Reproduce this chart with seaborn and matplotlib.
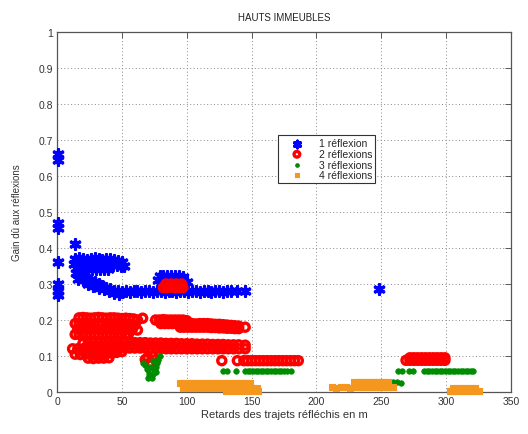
import matplotlib
matplotlib.use("Agg")
import matplotlib.pyplot as plt
import seaborn as sns

# Each series: (retard en m, gain) pairs

# --- 1 réflexion ---
r1_pts = [
    (0.5, 0.66), (0.5, 0.645), (0.5, 0.47), (0.5, 0.455), (0.5, 0.36), (0.5, 0.30), (0.5, 0.28), (0.5, 0.27),
    (14, 0.41),
    (14, 0.37), (17, 0.372), (20, 0.37), (23, 0.368), (26, 0.37), (29, 0.372), (32, 0.37), (35, 0.368),
    (38, 0.37), (41, 0.37), (44, 0.368), (47, 0.365), (50, 0.362),
    (13, 0.355), (16, 0.356), (19, 0.355), (22, 0.354), (25, 0.355), (28, 0.356), (31, 0.355), (34, 0.354),
    (37, 0.355), (40, 0.355), (43, 0.354), (46, 0.352), (49, 0.35), (52, 0.35),
    (18, 0.343), (21, 0.342), (24, 0.343), (27, 0.342), (30, 0.343), (33, 0.342), (36, 0.343), (39, 0.342),
    (15, 0.33), (18, 0.325), (20, 0.32), (23, 0.315), (26, 0.31), (29, 0.305), (32, 0.30), (35, 0.295),
    (38, 0.29), (41, 0.285), (44, 0.28),
    (16, 0.315), (20, 0.31), (24, 0.30), (28, 0.295), (32, 0.29), (36, 0.285), (40, 0.28), (44, 0.275), (48, 0.272),
    (47, 0.28), (50, 0.278), (53, 0.28), (56, 0.279), (59, 0.28), (62, 0.28), (65, 0.279), (68, 0.28),
    (71, 0.28), (74, 0.279), (77, 0.28), (80, 0.28), (83, 0.279), (86, 0.28), (89, 0.28), (92, 0.279),
    (95, 0.28), (98, 0.28), (101, 0.279), (104, 0.28), (107, 0.28), (110, 0.279), (113, 0.28), (116, 0.28),
    (119, 0.279), (122, 0.28), (125, 0.28), (128, 0.279), (131, 0.28), (134, 0.28),
    (139, 0.28), (145, 0.28),
    (79, 0.322), (82, 0.322), (85, 0.323), (88, 0.322), (91, 0.322), (94, 0.322), (97, 0.32),
    (78, 0.31), (81, 0.31), (84, 0.31), (87, 0.31), (90, 0.31), (93, 0.31), (96, 0.31), (100, 0.305),
    (248, 0.285),
]

# --- 2 réflexions ---
r2_pts = [
    # upper cluster, short delays
    (17, 0.206), (20, 0.207), (23, 0.206), (26, 0.205), (29, 0.206), (32, 0.207), (35, 0.206), (38, 0.205),
    (41, 0.206), (44, 0.206), (47, 0.205), (50, 0.204), (53, 0.205), (56, 0.204), (59, 0.203), (62, 0.2), (66, 0.205),
    (14, 0.19), (17, 0.19), (20, 0.19), (23, 0.191), (26, 0.19), (29, 0.19), (32, 0.19), (35, 0.19),
    (38, 0.19), (41, 0.191), (44, 0.19), (47, 0.19), (50, 0.19), (53, 0.189), (56, 0.188), (60, 0.186),
    (16, 0.175), (19, 0.175), (22, 0.176), (25, 0.175), (28, 0.175), (31, 0.175), (34, 0.174), (37, 0.175),
    (40, 0.175), (43, 0.175), (46, 0.174), (49, 0.175), (52, 0.174), (55, 0.174), (58, 0.173), (62, 0.172),
    (14, 0.16), (17, 0.16), (20, 0.161), (23, 0.16), (26, 0.16), (29, 0.16), (32, 0.16), (35, 0.161),
    (38, 0.16), (41, 0.16), (44, 0.16), (47, 0.16), (50, 0.159), (53, 0.16), (55, 0.16),
    # upper band, longer delays
    (76, 0.2), (79, 0.2), (82, 0.201), (85, 0.2), (88, 0.2), (91, 0.2), (94, 0.2), (97, 0.2), (100, 0.198),
    (80, 0.19), (83, 0.19), (86, 0.19), (89, 0.19), (92, 0.19), (95, 0.19), (98, 0.19), (101, 0.19),
    (104, 0.19), (107, 0.189), (110, 0.19), (113, 0.19), (116, 0.19), (119, 0.189), (122, 0.188),
    (125, 0.188), (128, 0.187), (131, 0.186), (134, 0.185), (137, 0.184), (140, 0.183),
    (95, 0.18), (98, 0.18), (101, 0.18), (104, 0.18), (107, 0.18), (110, 0.18), (113, 0.18), (116, 0.18),
    (119, 0.179), (122, 0.179), (125, 0.178), (128, 0.178), (131, 0.177), (134, 0.177), (137, 0.176),
    (140, 0.176), (145, 0.18),
    # lower band
    (20, 0.135), (24, 0.136), (28, 0.137), (32, 0.137), (36, 0.136), (40, 0.137), (44, 0.138), (48, 0.137),
    (52, 0.138), (56, 0.138), (60, 0.137), (64, 0.137), (68, 0.137), (72, 0.136), (76, 0.136), (80, 0.136),
    (84, 0.135), (88, 0.135), (92, 0.135), (96, 0.134), (100, 0.134), (104, 0.134), (108, 0.133),
    (112, 0.133), (116, 0.133), (120, 0.132), (124, 0.132), (128, 0.132), (132, 0.131), (136, 0.131),
    (140, 0.131), (145, 0.13),
    (12, 0.12), (16, 0.12), (20, 0.12), (24, 0.121), (28, 0.12), (32, 0.12), (36, 0.12), (40, 0.12),
    (44, 0.121), (48, 0.122), (52, 0.122), (56, 0.122), (60, 0.122), (64, 0.122), (68, 0.122), (72, 0.121),
    (76, 0.121), (80, 0.121), (84, 0.12), (88, 0.12), (92, 0.12), (96, 0.12), (100, 0.12), (104, 0.12),
    (108, 0.12), (112, 0.12), (116, 0.12), (120, 0.12), (124, 0.12), (128, 0.12), (132, 0.12), (136, 0.12),
    (140, 0.12), (145, 0.12),
    (14, 0.105), (18, 0.104), (22, 0.105), (26, 0.104), (30, 0.105), (34, 0.106), (38, 0.107), (42, 0.108),
    (46, 0.11), (50, 0.112),
    (24, 0.094), (28, 0.093), (32, 0.094), (36, 0.094), (40, 0.095),
    # under the 1-réflexion blob
    (82, 0.29), (85, 0.29), (88, 0.291), (91, 0.29), (94, 0.29), (97, 0.29),
    (84, 0.3), (88, 0.3), (92, 0.3), (96, 0.3),
    (68, 0.09), (70, 0.096), (72, 0.082), (74, 0.1), (76, 0.09),
    # band near 0.09
    (127, 0.087), (139, 0.087), (144, 0.087), (147, 0.087), (150, 0.087), (153, 0.087), (156, 0.087),
    (159, 0.087), (162, 0.087), (165, 0.087), (168, 0.087), (171, 0.087), (174, 0.087), (177, 0.087),
    (180, 0.087), (183, 0.087), (186, 0.087),
    (269, 0.088), (272, 0.088), (275, 0.088), (278, 0.088), (281, 0.088), (284, 0.088), (287, 0.088),
    (290, 0.088), (293, 0.088), (296, 0.088), (299, 0.088),
    (272, 0.095), (275, 0.095), (278, 0.095), (281, 0.095), (284, 0.095), (287, 0.095), (290, 0.095),
    (293, 0.095), (296, 0.095), (299, 0.095),
]

# --- 3 réflexions ---
r3_pts = [
    (66, 0.08), (68, 0.075), (69, 0.065), (70, 0.06), (71, 0.05), (72, 0.045), (73, 0.04), (74, 0.05),
    (75, 0.06), (76, 0.07), (77, 0.08), (78, 0.09), (79, 0.1), (72, 0.07), (74, 0.085), (70, 0.04), (76, 0.055),
    (128, 0.058), (131, 0.058), (138, 0.058),
    (145, 0.057), (147, 0.057), (149, 0.057), (151, 0.057), (153, 0.057), (155, 0.057), (157, 0.057),
    (159, 0.057), (161, 0.057), (163, 0.057), (165, 0.057), (167, 0.057), (169, 0.057), (171, 0.057),
    (173, 0.057), (175, 0.057), (177, 0.057), (180, 0.057),
    (259, 0.027), (262, 0.027), (265, 0.025),
    (263, 0.057), (266, 0.057), (271, 0.057), (274, 0.057),
    (283, 0.057), (285, 0.057), (287, 0.057), (289, 0.057), (291, 0.057), (293, 0.057), (295, 0.057),
    (297, 0.057), (299, 0.057), (301, 0.057), (303, 0.057), (305, 0.057), (307, 0.057), (309, 0.057),
    (311, 0.057), (313, 0.057), (315, 0.057), (317, 0.057), (319, 0.057), (321, 0.057),
]

# --- 4 réflexions ---
r4_pts = [
    (95, 0.025), (97, 0.026), (99, 0.025), (101, 0.025), (103, 0.026), (105, 0.025), (107, 0.025),
    (109, 0.026), (111, 0.025), (113, 0.025), (115, 0.026), (117, 0.025), (119, 0.025), (121, 0.026),
    (123, 0.025), (125, 0.025), (127, 0.026), (129, 0.025), (131, 0.025), (133, 0.026), (135, 0.025),
    (137, 0.025), (139, 0.026), (141, 0.025), (143, 0.025), (145, 0.026), (147, 0.025), (149, 0.025),
    (97, 0.012), (100, 0.012), (103, 0.012), (106, 0.012), (109, 0.012), (112, 0.012), (115, 0.012),
    (118, 0.012), (121, 0.012), (124, 0.012), (127, 0.012), (130, 0.012), (133, 0.012), (136, 0.012),
    (139, 0.012), (142, 0.012), (145, 0.012), (148, 0.012), (151, 0.012), (154, 0.012),
    (130, 0.003), (133, 0.003), (136, 0.003), (139, 0.003), (142, 0.003), (145, 0.003), (148, 0.003),
    (151, 0.003), (155, 0.003),
    (212, 0.015), (215, 0.012), (219, 0.015), (223, 0.015), (226, 0.012),
    (229, 0.028), (231, 0.028), (233, 0.028), (235, 0.028), (237, 0.028), (239, 0.028), (241, 0.028),
    (243, 0.028), (245, 0.028), (247, 0.028), (249, 0.028), (251, 0.028), (253, 0.028), (255, 0.028),
    (230, 0.015), (232, 0.015), (234, 0.015), (236, 0.015), (238, 0.015), (240, 0.015), (242, 0.015),
    (244, 0.015), (246, 0.015), (248, 0.015), (250, 0.015), (252, 0.015), (254, 0.015), (256, 0.015), (259, 0.015),
    (303, 0.004), (305, 0.004), (307, 0.004), (309, 0.004), (311, 0.004), (313, 0.004), (315, 0.004),
    (317, 0.004), (319, 0.004), (321, 0.004), (323, 0.004), (325, 0.004),
    (305, 0.012), (308, 0.012), (311, 0.012), (314, 0.012), (317, 0.012), (320, 0.012), (322, 0.012),
]

x_ticks = [0, 50, 100, 150, 200, 250, 300, 350]
y_ticks = [0, 0.1, 0.2, 0.3, 0.4, 0.5, 0.6, 0.7, 0.8, 0.9, 1]
y_ticklabels = ["0", "0.1", "0.2", "0.3", "0.4", "0.5", "0.6", "0.7", "0.8", "0.9", "1"]


def xy(pts):
    return [p[0] for p in pts], [p[1] for p in pts]


sns.set_style("white")
plt.rcParams["font.family"] = ["Liberation Sans", "DejaVu Sans"]

fig = plt.figure(figsize=(5.28, 4.35), dpi=100)
ax = fig.add_axes([0.108, 0.0966, 0.860, 0.8274])

blue = "#0000FF"
red = "#FF0000"
green = "#008C00"
orange = "#F5961E"

x1, y1 = xy(r1_pts)
x2, y2 = xy(r2_pts)
x3, y3 = xy(r3_pts)
x4, y4 = xy(r4_pts)

sns.scatterplot(x=x1, y=y1, ax=ax, marker=(6, 2, 0), s=48, color=blue,
                linewidth=2.3, label="1 réflexion", clip_on=False, zorder=3)
sns.scatterplot(x=x2, y=y2, ax=ax, marker="o", s=34, facecolor="none",
                edgecolor=red, linewidth=2.4, label="2 réflexions", clip_on=False, zorder=3)
sns.scatterplot(x=x3, y=y3, ax=ax, marker="o", s=16, color=green,
                edgecolor=green, linewidth=0.5, label="3 réflexions", clip_on=False, zorder=3)
sns.scatterplot(x=x4, y=y4, ax=ax, marker="s", s=18, color=orange,
                edgecolor=orange, linewidth=0.8, label="4 réflexions", clip_on=False, zorder=3)

ax.set_xlim(0, 350)
ax.set_ylim(0, 1)
ax.set_xticks(x_ticks)
ax.set_yticks(y_ticks)
ax.set_yticklabels(y_ticklabels)
ax.grid(True, linestyle=(0, (1, 2.5)), color="#888888", linewidth=0.7)
ax.tick_params(direction="in", top=True, right=True, length=4, width=0.7,
               labelsize=7.5, labelcolor="#333333", color="#555555", pad=3)
for sp in ax.spines.values():
    sp.set_color("#555555")
    sp.set_linewidth(0.9)

ax.set_title("HAUTS IMMEUBLES", fontsize=7, color="#222222", pad=9)
ax.set_xlabel("Retards des trajets réfléchis en m", fontsize=8, color="#333333", labelpad=2)
ax.set_ylabel("Gain dû aux réflexions", fontsize=7, color="#333333", labelpad=12)

leg = ax.legend(loc="upper left", bbox_to_anchor=(0.487, 0.713), fontsize=7.5,
                frameon=True, fancybox=False, edgecolor="#333333", framealpha=1,
                borderpad=0.3, labelspacing=0.05, handletextpad=0.6, handlelength=3.0,
                borderaxespad=0, markerscale=0.7)
leg.get_frame().set_linewidth(0.8)

fig.savefig("out.png", dpi=100)
